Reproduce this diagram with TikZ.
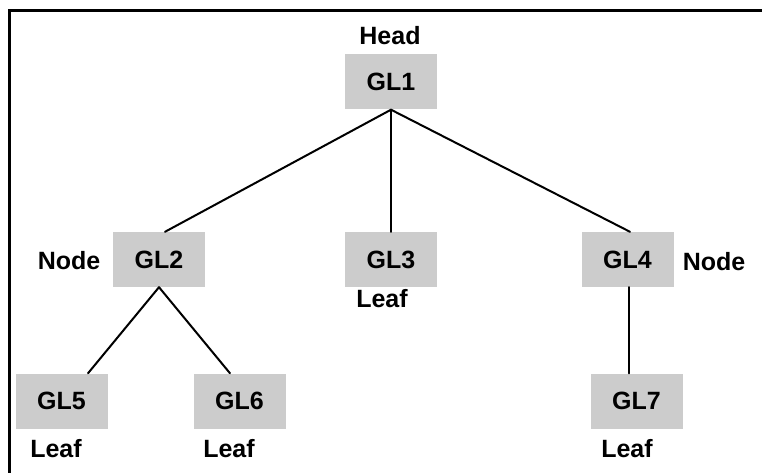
\documentclass[tikz,border=0pt]{standalone}
\usepackage{fontspec}
\setmainfont{Liberation Sans}
\begin{document}
\begin{tikzpicture}[x=1pt,y=-1pt,
  box/.style={fill={rgb,255:red,204;green,204;blue,204}, draw=none, minimum width=92pt, minimum height=55pt, inner sep=0pt, font=\fontsize{25}{29}\selectfont\bfseries},
  lbl/.style={inner sep=0pt, font=\fontsize{25}{29}\selectfont\bfseries},
  conn/.style={line width=2pt, line cap=round},
  frame/.style={line width=3pt}]
\useasboundingbox (0,0) rectangle (762,473);
\coordinate (fa) at (9.5,473);
\coordinate (fb) at (9.5,11);
\coordinate (fc) at (762,11);
\draw[frame] (fa) -- (fb) -- (fc);
\node[box] (g1) at (391,82) {GL1};
\node[box] (g2) at (159,259.5) {GL2};
\node[box] (g3) at (391,259.5) {GL3};
\node[box] (g4) at (627.5,259.5) {GL4};
\node[box] (g5) at (61.5,401) {GL5};
\node[box] (g6) at (239.5,401) {GL6};
\node[box] (g7) at (636.5,401) {GL7};
\node[lbl] (head) at (390,36) {Head};
\node[lbl] (n2) at (69,261) {Node};
\node[lbl] (n4) at (714,261.5) {Node};
\node[lbl] (l3) at (382,299) {Leaf};
\node[lbl] (l5) at (56,449) {Leaf};
\node[lbl] (l6) at (229,449) {Leaf};
\node[lbl] (l7) at (627,449) {Leaf};
\draw[conn] (g1.south) -- ([xshift=6pt]g2.north);
\draw[conn] (g1.south) -- (g3.north);
\draw[conn] (g1.south) -- ([xshift=2.5pt]g4.north);
\draw[conn] (g2.south) -- ([xshift=26.5pt]g5.north);
\draw[conn] (g2.south) -- ([xshift=-9.5pt]g6.north);
\draw[conn] ([xshift=1.5pt]g4.south) -- ([xshift=-7.5pt]g7.north);
\end{tikzpicture}
\end{document}
